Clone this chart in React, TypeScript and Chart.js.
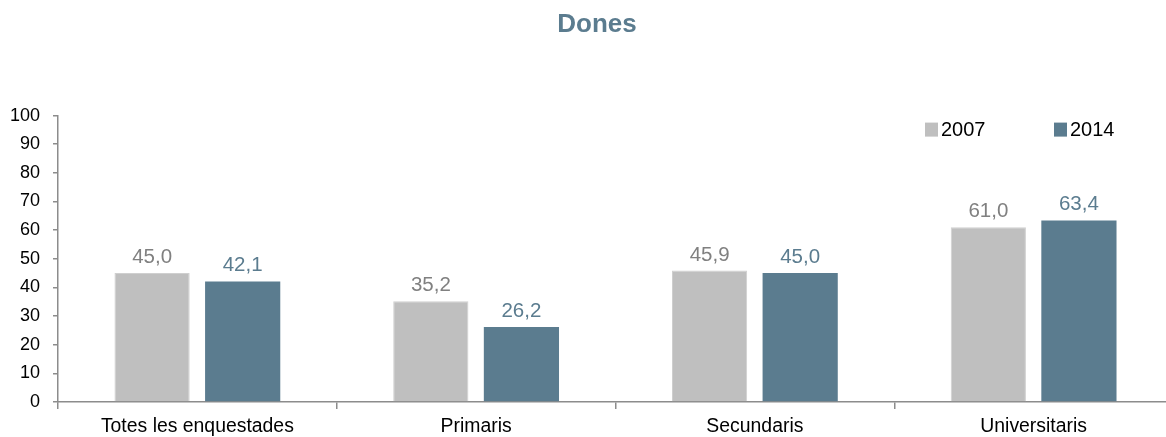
import React, { useEffect, useRef } from "react";
import { Chart, registerables } from "chart.js";

Chart.register(...registerables);

const categories = ["Totes les enquestades", "Primaris", "Secundaris", "Universitaris"];
const series2007 = [45.0, 35.2, 45.9, 61.0];
const series2014 = [42.1, 26.2, 45.0, 63.4];
const seriesLabels = ["2007", "2014"];
const yTicks = [0, 10, 20, 30, 40, 50, 60, 70, 80, 90, 100];
const titleText = "Dones";

const GRAY = "#bfbfbf";
const BLUE = "#5b7c8f";
const FONT = "'Liberation Sans', Arial, sans-serif";

const fmt = (v: number) => v.toFixed(1).replace(".", ",");

const dataLabelPlugin = {
  id: "dataLabels",
  afterDatasetsDraw(chart: any) {
    const ctx = chart.ctx;
    ctx.save();
    ctx.font = `20.5px ${FONT}`;
    ctx.textAlign = "center";
    ctx.textBaseline = "alphabetic";
    chart.data.datasets.forEach((ds: any, i: number) => {
      const meta = chart.getDatasetMeta(i);
      ctx.fillStyle = i === 0 ? "#808080" : BLUE;
      meta.data.forEach((bar: any, j: number) => {
        ctx.fillText(fmt(ds.data[j]), bar.x, bar.y - 10);
      });
    });
    ctx.restore();
  },
};

const legendPlugin = {
  id: "customLegend",
  afterDraw(chart: any) {
    const ctx = chart.ctx;
    const area = chart.chartArea;
    ctx.save();
    ctx.font = `20px ${FONT}`;
    ctx.textBaseline = "middle";
    ctx.textAlign = "left";
    const y = area.top + 14;
    const items = [
      { x: area.right - 248, color: GRAY, label: seriesLabels[0] },
      { x: area.right - 119, color: BLUE, label: seriesLabels[1] },
    ];
    items.forEach((it) => {
      ctx.fillStyle = it.color;
      ctx.fillRect(it.x, y - 7, 13, 14);
      ctx.fillStyle = "#000";
      ctx.fillText(it.label, it.x + 16, y + 1);
    });
    ctx.restore();
  },
};

export default function App() {
  const ref = useRef<HTMLCanvasElement>(null);
  useEffect(() => {
    if (!ref.current) return;
    const chart = new Chart(ref.current, {
      type: "bar",
      data: {
        labels: categories,
        datasets: [
          {
            label: seriesLabels[0],
            data: series2007,
            backgroundColor: GRAY,
            borderColor: "#cfcfcf",
            borderWidth: 1,
            categoryPercentage: 0.65,
            barPercentage: 0.83,
            yAxisID: "y",
          },
          {
            label: seriesLabels[1],
            data: series2014,
            backgroundColor: BLUE,
            borderWidth: 0,
            categoryPercentage: 0.65,
            barPercentage: 0.83,
            yAxisID: "y",
          },
        ],
      },
      options: {
        responsive: false,
        animation: false,
        devicePixelRatio: 1,
        layout: { padding: 0 },
        plugins: {
          legend: { display: false },
          tooltip: { enabled: false },
          title: {
            display: true,
            text: titleText,
            color: BLUE,
            font: { family: FONT, size: 26, weight: "bold", lineHeight: 1.2 },
            padding: { top: 9, bottom: 75.4 },
          },
        },
        scales: {
          x: {
            offset: true,
            grid: {
              offset: true,
              drawOnChartArea: false,
              drawTicks: true,
              tickLength: 7,
              color: "#8c8c8c",
              lineWidth: 1.5,
            },
            border: { color: "#8c8c8c", width: 1.5 },
            ticks: {
              color: "#000",
              font: { family: FONT, size: 19.4 },
              padding: 6,
              maxRotation: 0,
              autoSkip: false,
            },
            afterFit: (scale: any) => {
              scale.height = 35;
            },
          },
          y: {
            position: "left",
            min: 0,
            max: 100,
            afterBuildTicks: (scale: any) => {
              scale.ticks = yTicks.map((v) => ({ value: v }));
            },
            grid: {
              drawOnChartArea: false,
              drawTicks: true,
              tickLength: 5,
              color: "#8c8c8c",
              lineWidth: 1.5,
            },
            border: { color: "#8c8c8c", width: 1.5 },
            ticks: {
              color: "#000",
              font: { family: FONT, size: 18 },
              padding: 13,
            },
            afterFit: (scale: any) => {
              scale.width = 58;
            },
          },
          y2: {
            position: "right",
            grid: { display: false },
            border: { display: false },
            ticks: { display: false },
            afterFit: (scale: any) => {
              scale.width = 21;
            },
          },
        },
      },
      plugins: [dataLabelPlugin, legendPlugin],
    });
    return () => chart.destroy();
  }, []);

  return (
    <div
      style={{
        position: "absolute",
        left: 0,
        top: 0,
        width: 1166,
        height: 437,
        overflow: "hidden",
        background: "#fff",
      }}
    >
      <canvas ref={ref} width={1194} height={437} style={{ display: "block", width: 1194, height: 437 }} />
    </div>
  );
}
